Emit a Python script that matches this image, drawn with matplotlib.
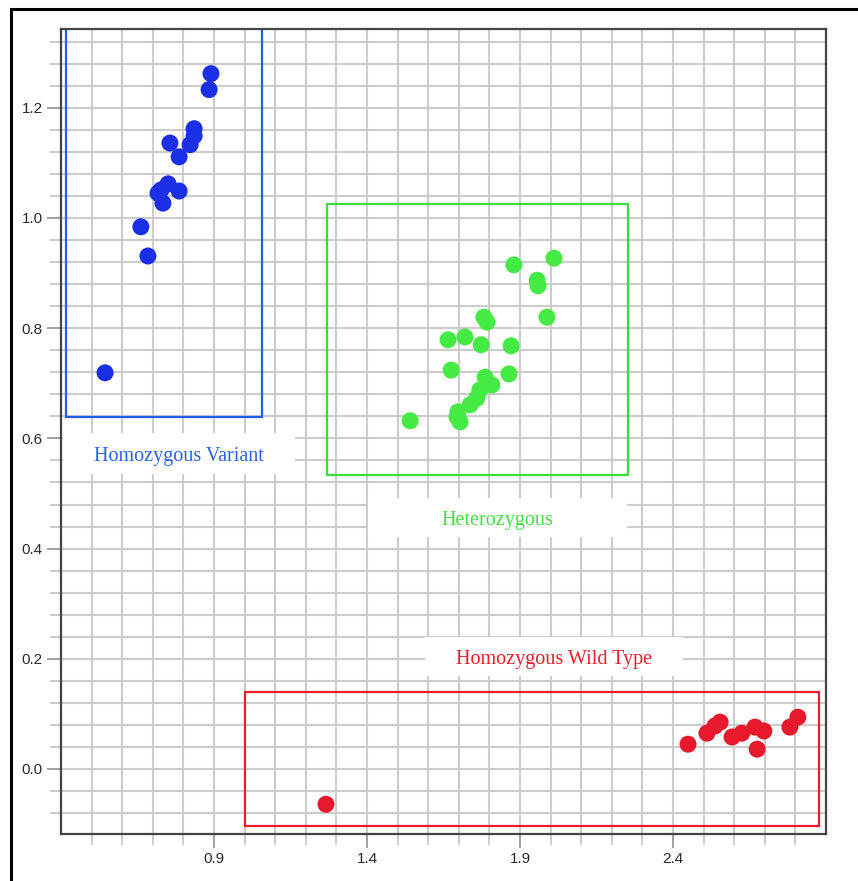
import matplotlib
matplotlib.use("Agg")
import matplotlib.pyplot as plt
from matplotlib.patches import Rectangle
from matplotlib.lines import Line2D
import numpy as np

# ---- data ----
variant_x = [0.890, 0.884, 0.835, 0.835, 0.822, 0.756, 0.786, 0.750, 0.727, 0.717, 0.733, 0.786, 0.661, 0.684, 0.544]
variant_y = [1.262, 1.233, 1.162, 1.149, 1.133, 1.136, 1.111, 1.062, 1.051, 1.045, 1.027, 1.049, 0.984, 0.931, 0.719]

hetero_x = [1.880, 2.011, 1.956, 1.959, 1.988, 1.782, 1.792, 1.720, 1.665, 1.773, 1.871,
            1.675, 1.864, 1.786, 1.808, 1.769, 1.759, 1.737, 1.697, 1.694, 1.704, 1.541]
hetero_y = [0.915, 0.927, 0.887, 0.877, 0.820, 0.820, 0.811, 0.784, 0.779, 0.770, 0.768,
            0.724, 0.717, 0.711, 0.697, 0.688, 0.673, 0.661, 0.648, 0.639, 0.630, 0.632]

wild_x = [2.449, 2.511, 2.537, 2.554, 2.593, 2.625, 2.668, 2.697, 2.675, 2.782, 2.808, 1.266]
wild_y = [0.045, 0.065, 0.078, 0.085, 0.058, 0.065, 0.076, 0.069, 0.036, 0.076, 0.094, -0.064]

group_labels = ["Homozygous Variant", "Heterozygous", "Homozygous Wild Type"]
x_ticks = [0.9, 1.4, 1.9, 2.4]
y_ticks = [0.0, 0.2, 0.4, 0.6, 0.8, 1.0, 1.2]

# cluster regions (x0, y0, x1, y1)
regions = [(0.416, 0.639, 1.057, 1.36), (1.269, 0.534, 2.253, 1.026), (1.001, -0.103, 2.877, 0.140)]
label_boxes = [(0.4065, 0.535, 1.165, 0.610), (1.403, 0.421, 2.250, 0.492), (1.590, 0.168, 2.432, 0.240)]

pt_colors = ["#1b2fe6", "#45ea45", "#e8192c"]
box_colors = ["#1f5fe8", "#3ddd3d", "#ee1c2c"]
txt_colors = ["#2a62e6", "#44dd44", "#ee1c2c"]

fig = plt.figure(figsize=(8.58, 8.81), dpi=100)

ax = fig.add_axes([61/858, 47/881, 765/858, 805/881])
ax.set_xlim(0.4, 2.9)
ax.set_ylim(-0.118, 1.343)

# grid
ax.set_xticks(x_ticks)
ax.set_yticks(y_ticks)
ax.set_xticks(np.arange(0.5, 2.9, 0.1), minor=True)
ax.set_yticks(np.arange(-0.08, 1.34, 0.04), minor=True)
ax.set_xticklabels([f"{v:.1f}" for v in x_ticks])
ax.set_yticklabels([f"{v:.1f}" for v in y_ticks])
ax.grid(True, which="both", color="#cccccc", linewidth=1.5, zorder=0)
ax.set_axisbelow(True)
ax.tick_params(which="both", direction="out", length=8, width=1.3, color="#c8c8c8",
               labelsize=11, labelcolor="#2a2a2a", pad=3)
ax.tick_params(which="major", color="#999999", length=10)
for lab in ax.get_xticklabels() + ax.get_yticklabels():
    lab.set_family("Liberation Sans")
for s in ax.spines.values():
    s.set_color("#444444")
    s.set_linewidth(1.6)

# label background boxes
for (x0, y0, x1, y1) in label_boxes:
    ax.add_patch(Rectangle((x0, y0), x1 - x0, y1 - y0, facecolor="white",
                           edgecolor="none", zorder=1.5))

# region rectangles
for (x0, y0, x1, y1), c in zip(regions, box_colors):
    ax.add_patch(Rectangle((x0, y0), x1 - x0, y1 - y0, facecolor="none",
                           edgecolor=c, linewidth=1.6, zorder=2, clip_on=True))

# points
for xs, ys, c in [(variant_x, variant_y, pt_colors[0]),
                  (hetero_x, hetero_y, pt_colors[1]),
                  (wild_x, wild_y, pt_colors[2])]:
    ax.scatter(xs, ys, s=150, color=c, edgecolors="none", zorder=3)

# labels
for (x0, y0, x1, y1), lab, c in zip(label_boxes, group_labels, txt_colors):
    ax.text((x0 + x1) / 2, (y0 + y1) / 2 - 0.005, lab, color=c, fontsize=14.5,
            family="Liberation Serif", ha="center", va="center", zorder=4)

# outer frame lines
fig.add_artist(Line2D([11/858, 11/858], [0, 1 - 9/881], transform=fig.transFigure,
                      color="black", linewidth=2.2))
fig.add_artist(Line2D([11/858, 1], [1 - 9/881, 1 - 9/881], transform=fig.transFigure,
                      color="black", linewidth=2.2))

fig.savefig("out.png", dpi=100)
